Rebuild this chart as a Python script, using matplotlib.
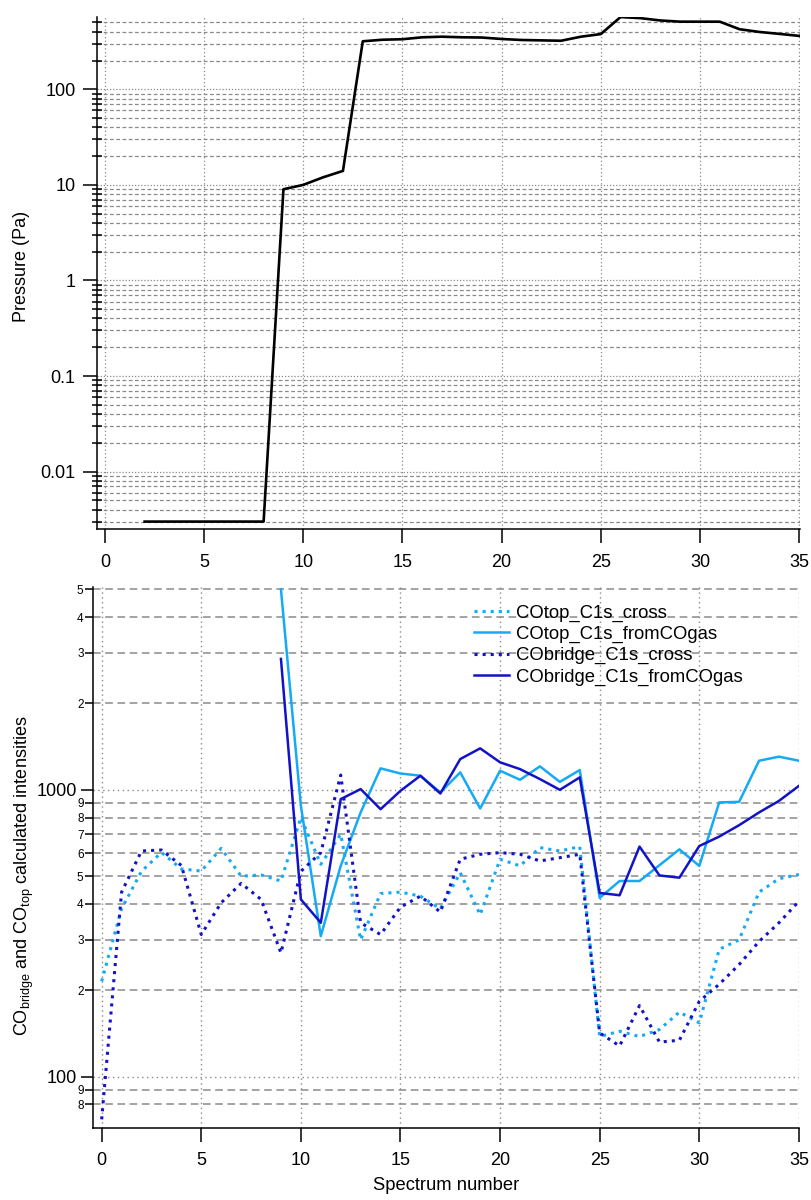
import numpy as np
import matplotlib
matplotlib.use('Agg')
from matplotlib import pyplot as plt
from matplotlib.ticker import FixedLocator, FuncFormatter, NullFormatter

plt.rcParams['font.family'] = ['Liberation Sans', 'DejaVu Sans']
plt.rcParams['mathtext.fontset'] = 'custom'
plt.rcParams['mathtext.rm'] = 'Liberation Sans'
plt.rcParams['mathtext.it'] = 'Liberation Sans'
plt.rcParams['axes.linewidth'] = 1.1

# pressure during the run (Pa), spectra 2..35
p_x = np.arange(2, 36)
pressure = [0.003, 0.003, 0.003, 0.003, 0.003, 0.003, 0.003,
            9, 10, 12, 14, 318, 330, 334, 350, 355, 350, 348, 336, 328, 325,
            322, 355, 378, 570, 555, 525, 510, 510, 510, 425, 398, 380, 362]

# intensities
spec = np.arange(0, 36)
cotop_cross = [215, 385, 520, 605, 530, 521, 625, 500, 505, 481, 801, 550,
               700, 300, 435, 440, 426, 385, 514, 367, 573, 543, 629, 612,
               634, 138, 144, 138, 146, 168, 154, 278, 300, 440, 490, 507]
cobridge_cross = [71, 440, 612, 617, 545, 313, 404, 472, 415, 270, 520, 604,
                  1126, 344, 313, 390, 426, 375, 573, 596, 604, 596, 565, 580,
                  596, 142, 128, 177, 132, 134, 183, 210, 246, 296, 344, 409]
spec_gas = np.arange(9, 36)
cotop_gas = [5000, 880, 309, 543, 834, 1188, 1140, 1120, 979, 1150, 861, 1166,
             1084, 1207, 1066, 1172, 420, 481, 481, 546, 620, 543, 904, 908,
             1263, 1305, 1263]
cobridge_gas = [2860, 415, 344, 928, 1006, 856, 992, 1120, 971, 1280, 1395,
                1247, 1181, 1090, 1000, 1105, 437, 429, 634, 503, 494, 637,
                687, 753, 834, 915, 1032]

light = '#14AAF5'
dark = '#1212C8'
gridc = '#8a8a8a'

fig = plt.figure(figsize=(8.12, 12), dpi=100)

# ---- top: pressure ----
ax1 = fig.add_axes([0.1195, 0.5589, 0.8658, 0.4272])
ax1.plot(p_x, pressure, color='black', lw=1.9)
ax1.set_yscale('log')
ax1.set_xlim(-0.4, 35.05)
ax1.set_ylim(0.00249, 575)
ax1.set_xticks(np.arange(0, 36, 5))
ax1.yaxis.set_major_locator(FixedLocator([0.01, 0.1, 1, 10, 100]))
ax1.yaxis.set_major_formatter(FuncFormatter(lambda v, p: '%g' % v))
minors1 = [m * 10.0 ** e for e in range(-3, 3) for m in range(2, 10)]
ax1.yaxis.set_minor_locator(FixedLocator(minors1))
ax1.yaxis.set_minor_formatter(NullFormatter())
ax1.grid(which='major', axis='y', color=gridc, lw=0.9, linestyle=(0, (1, 1.5)))
ax1.grid(which='minor', axis='y', color=gridc, lw=0.9, linestyle=(0, (3, 2)))
ax1.grid(which='major', axis='x', color=gridc, lw=0.9, linestyle=(0, (1, 2)))
ax1.spines['top'].set_visible(False)
ax1.spines['right'].set_visible(False)
ax1.tick_params(axis='y', which='major', direction='out', length=10, width=1.1,
                labelsize=13, pad=5.5)
ax1.tick_params(axis='y', which='minor', direction='inout', length=7, width=1.1)
ax1.tick_params(axis='x', which='major', direction='out', length=10, width=1.1,
                labelsize=13, pad=7.5)
ax1.set_ylabel('Pressure (Pa)', fontsize=13)
ax1.yaxis.set_label_coords(-0.095, 0.513)

# ---- bottom: intensities ----
ax2 = fig.add_axes([0.1149, 0.06025, 0.8697, 0.4503])
ax2.plot(spec, cotop_cross, color=light, lw=2.2, linestyle=':', label='COtop_C1s_cross')
ax2.plot(spec_gas, cotop_gas, color=light, lw=1.8, label='COtop_C1s_fromCOgas')
ax2.plot(spec, cobridge_cross, color=dark, lw=2.2, linestyle=':', label='CObridge_C1s_cross')
ax2.plot(spec_gas, cobridge_gas, color=dark, lw=1.8, label='CObridge_C1s_fromCOgas')
ax2.set_yscale('log')
ax2.set_xlim(-0.42, 35.03)
ax2.set_ylim(66.4, 5080)
ax2.set_xticks(np.arange(0, 36, 5))
ax2.yaxis.set_major_locator(FixedLocator([100, 1000]))
ax2.yaxis.set_major_formatter(FuncFormatter(lambda v, p: '%d' % v))
minors2 = [80, 90] + [m * 100 for m in range(2, 10)] + [m * 1000 for m in range(2, 6)]
ax2.yaxis.set_minor_locator(FixedLocator(minors2))
ax2.yaxis.set_minor_formatter(FuncFormatter(
    lambda v, p: '%d' % round(v / 10 ** np.floor(np.log10(v) + 1e-9))))
ax2.grid(which='major', axis='y', color=gridc, lw=1.0, linestyle=(0, (1, 2.5)))
ax2.grid(which='minor', axis='y', color=gridc, lw=1.1, linestyle=(0, (5, 3)))
ax2.grid(which='major', axis='x', color=gridc, lw=1.0, linestyle=(0, (1, 2.5)))
ax2.spines['top'].set_visible(False)
ax2.spines['right'].set_visible(False)
ax2.tick_params(axis='y', which='major', direction='out', length=8.5, width=1.1,
                labelsize=13, pad=3.5)
ax2.tick_params(axis='y', which='minor', direction='out', length=5.5, width=1.1,
                labelsize=8.5, pad=1.5)
ax2.tick_params(axis='x', which='major', direction='out', length=10, width=1.1,
                labelsize=13, pad=7.5)
ax2.set_xlabel('Spectrum number', fontsize=13.2, labelpad=6)
ax2.set_ylabel(r'CO$_{\mathrm{bridge}}$ and CO$_{\mathrm{top}}$ calculated intensities',
               fontsize=13)
ax2.yaxis.set_label_coords(-0.081, 0.466)
ax2.legend(loc='upper left', bbox_to_anchor=(0.539, 0.968), frameon=False,
           fontsize=13.3, borderpad=0, borderaxespad=0, handlelength=1.9,
           handletextpad=0.4, labelspacing=0.22)

fig.savefig('out.png', dpi=100)
